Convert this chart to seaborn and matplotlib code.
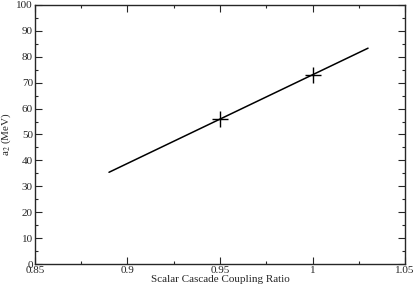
import numpy as np
import pandas as pd
import matplotlib
matplotlib.use("Agg")
import matplotlib.pyplot as plt
import seaborn as sns
from matplotlib.ticker import MultipleLocator

# fit line and the two computed points
fit_ratio = [0.89, 1.03]
fit_a2 = [35.4, 83.3]
pt_ratio = [0.95, 1.0]
pt_a2 = [56.0, 73.0]

sns.set_style("ticks")
plt.rcParams['font.family'] = ['Liberation Serif', 'DejaVu Serif']
plt.rcParams['mathtext.fontset'] = 'stix'

df_fit = pd.DataFrame({'ratio': fit_ratio, 'a2': fit_a2})
df_pts = pd.DataFrame({'ratio': pt_ratio, 'a2': pt_a2})

fig = plt.figure(figsize=(4.15, 2.89), dpi=100)
ax = fig.add_axes([0.0843, 0.0865, 0.8917, 0.8965])

sns.lineplot(data=df_fit, x='ratio', y='a2', color='black', linewidth=1.1, ax=ax)
ax.plot(df_pts['ratio'], df_pts['a2'], linestyle='none', marker='+', markersize=12,
        markeredgewidth=1.0, color='black')

ax.set_xlim(0.85, 1.05)
ax.set_ylim(0, 100)
ax.xaxis.set_major_locator(MultipleLocator(0.05))
ax.xaxis.set_minor_locator(MultipleLocator(0.025))
ax.yaxis.set_major_locator(MultipleLocator(10))
ax.yaxis.set_minor_locator(MultipleLocator(5))
ax.set_xticks([0.85, 0.9, 0.95, 1.0, 1.05])
ax.set_xticklabels(['0.85', '0.9', '0.95', '1', '1.05'])
ax.tick_params(which='both', direction='in', top=True, right=True, labelsize=8, width=0.8, pad=1.5)
ax.tick_params(which='major', length=5)
ax.tick_params(which='minor', length=2.5)
for s in ax.spines.values():
    s.set_linewidth(1.0)

ax.set_xlabel('Scalar Cascade Coupling Ratio', fontsize=8, labelpad=0)
ax.set_ylabel('a$_2$ (MeV)', fontsize=8, labelpad=2)

fig.savefig('out.png', dpi=100)
